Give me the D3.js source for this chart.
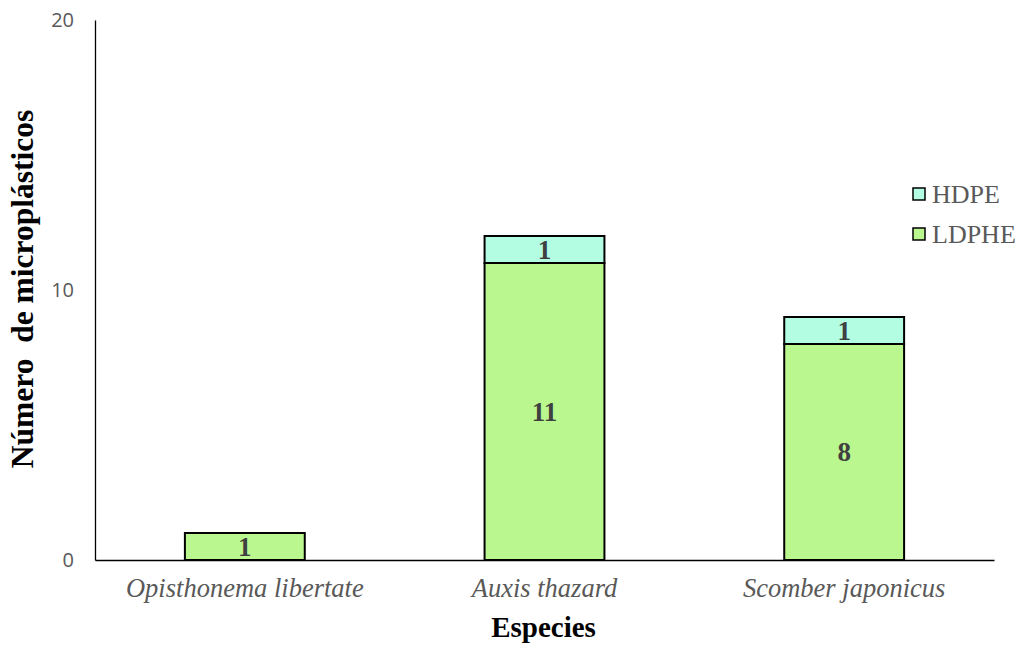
<!DOCTYPE html>
<html><head><meta charset="utf-8">
<script src="https://cdn.jsdelivr.net/npm/d3@7"></script>
<style>body{margin:0;background:#fff}</style>
</head><body>
<svg id="c" width="1024" height="646"></svg>
<script>
const categories = ["Opisthonema libertate", "Auxis thazard", "Scomber japonicus"];
const seriesNames = ["LDPHE", "HDPE"];
const ldphe = [1, 11, 8];
const hdpe = [0, 1, 1];
const yTicks = [0, 10, 20];
const colors = {LDPHE: "#bbf78f", HDPE: "#b3fde3"};

const serif = "'Liberation Serif', 'Times New Roman', serif";
const svg = d3.select("#c");
const m = {left: 95, right: 994, top: 20, bottom: 560};
const x = d3.scaleBand().domain(categories).range([m.left, m.right]).paddingInner(0.6).paddingOuter(0.3);
const y = d3.scaleLinear().domain([0, 20]).range([m.bottom, m.top]);

const rows = categories.map((c, i) => ({cat: c, LDPHE: ldphe[i], HDPE: hdpe[i]}));
const stack = d3.stack().keys(seriesNames)(rows);

// axes
const yAxis = svg.append("g").attr("transform", `translate(${m.left},0)`)
  .call(d3.axisLeft(y).tickValues(yTicks).tickSize(0).tickPadding(21));
yAxis.select(".domain").attr("stroke", "#000").attr("stroke-width", 1.3);
yAxis.selectAll("text").style("font-family", "'Open Sans', sans-serif").style("font-size", "20px").attr("fill", "#595959");

stack.forEach(s => {
  svg.append("g").selectAll("rect").data(s.filter(d => d[1] - d[0] > 0)).join("rect")
    .attr("x", d => x(d.data.cat)).attr("width", x.bandwidth())
    .attr("y", d => y(d[1])).attr("height", d => y(d[0]) - y(d[1]))
    .attr("fill", colors[s.key]).attr("stroke", "#000").attr("stroke-width", 2);
  svg.append("g").selectAll("text").data(s.filter(d => d[1] - d[0] > 0)).join("text")
    .attr("x", d => x(d.data.cat) + x.bandwidth() / 2)
    .attr("y", d => (y(d[0]) + y(d[1])) / 2)
    .attr("text-anchor", "middle").attr("dominant-baseline", "central")
    .style("font-family", serif).style("font-weight", "bold")
    .style("font-size", "27px").attr("fill", "#404040")
    .text(d => d[1] - d[0]);
});

const xAxis = svg.append("g").attr("transform", `translate(0,${m.bottom})`)
  .call(d3.axisBottom(x).tickSize(0).tickPadding(18));
xAxis.select(".domain").attr("stroke", "#000").attr("stroke-width", 1.3);
xAxis.selectAll("text").style("font-family", serif)
  .style("font-style", "italic").style("font-size", "26.5px").attr("fill", "#595959");

svg.append("text").attr("x", (m.left + m.right) / 2 - 1).attr("y", 637)
  .attr("text-anchor", "middle").style("font-family", serif)
  .style("font-weight", "bold").style("font-size", "29px").attr("fill", "#000").text("Especies");

svg.append("text").attr("transform", "translate(33,289) rotate(-90)")
  .attr("text-anchor", "middle").style("font-family", serif)
  .style("font-weight", "bold").style("font-size", "31.5px").attr("fill", "#000").text("Número\u00a0 de microplásticos");

// legend
const legendOrder = ["HDPE", "LDPHE"];
const lg = svg.append("g");
legendOrder.forEach((k, i) => {
  const yy = 194 + i * 40;
  lg.append("rect").attr("x", 913).attr("y", yy - 6).attr("width", 12).attr("height", 12)
    .attr("fill", colors[k]).attr("stroke", "#000").attr("stroke-width", 1.5);
  lg.append("text").attr("x", 932).attr("y", yy).attr("dominant-baseline", "central")
    .style("font-family", serif).style("font-size", "26px").attr("fill", "#595959").text(k);
});
</script>
</body></html>
